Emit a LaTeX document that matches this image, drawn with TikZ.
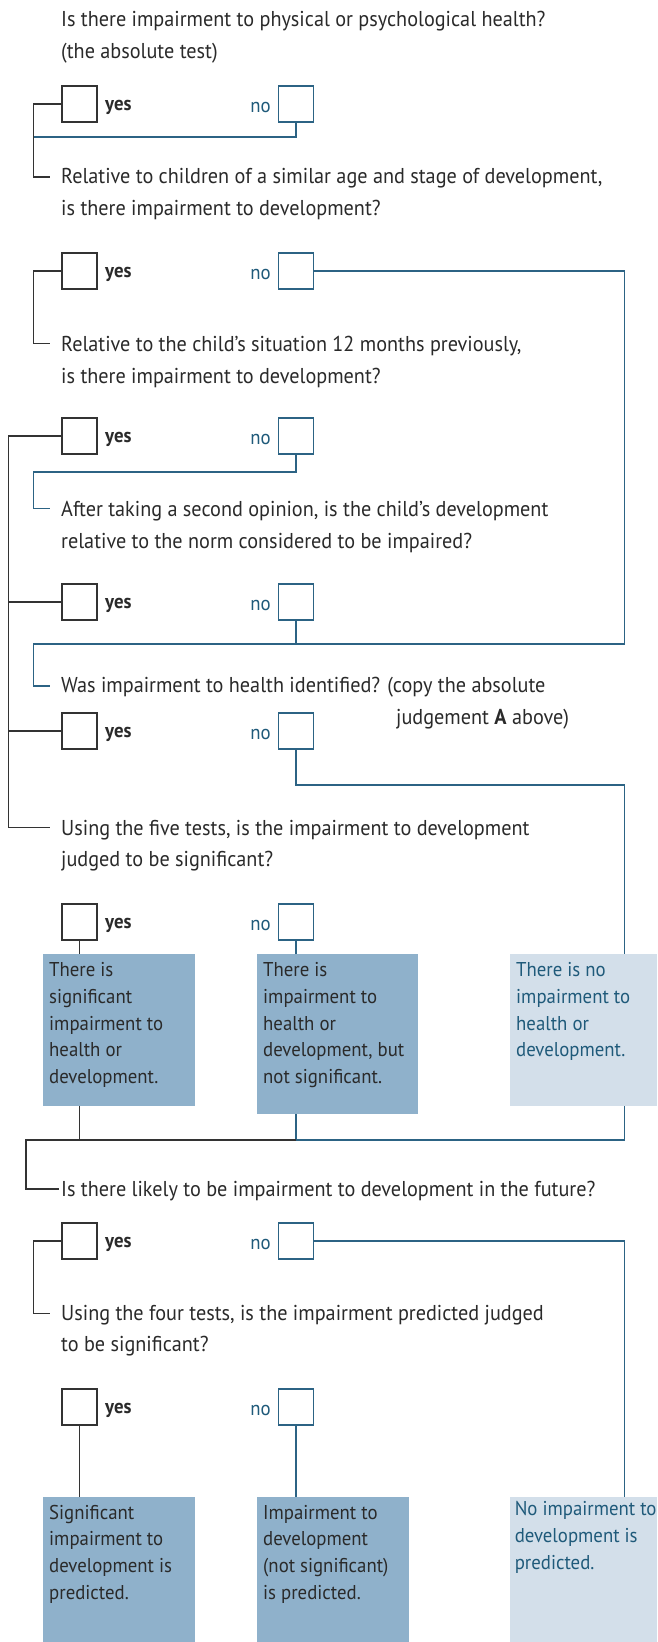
\documentclass[tikz,border=0pt]{standalone}
\usepackage{fontspec}
\setmainfont{PT Sans}[FakeStretch=0.94]
\usetikzlibrary{calc}
\definecolor{noblue}{HTML}{1F5A7A}
\definecolor{lineblue}{HTML}{2C6384}
\definecolor{ink}{HTML}{2A2A2A}
\definecolor{boxdark}{HTML}{8FB1CB}
\definecolor{boxlight}{HTML}{D3DFEA}
\definecolor{darkline}{HTML}{333333}
\tikzset{
  chk/.style={draw=darkline, line width=1.2pt, minimum width=35pt, minimum height=36pt, inner sep=0pt, fill=white},
  chkno/.style={chk, draw=lineblue},
  yeslab/.style={anchor=west, inner sep=0pt, font=\fontsize{20}{20}\selectfont\bfseries, text=ink},
  nolab/.style={anchor=east, inner sep=0pt, font=\fontsize{20}{20}\selectfont, text=noblue},
  question/.style={anchor=base west, inner sep=0pt, align=left, font=\fontsize{21.5}{31.6}\selectfont, text=ink},
  resbox/.style={anchor=north west, inner sep=0pt, fill=boxdark},
  resboxl/.style={resbox, fill=boxlight},
  restext/.style={anchor=base west, inner sep=0pt, align=left, font=\fontsize{20}{26.7}\selectfont, text=ink},
  yesline/.style={draw=darkline, line width=1.2pt},
  noline/.style={draw=lineblue, line width=1.2pt}
}
\begin{document}
\begin{tikzpicture}[x=1pt, y=-1pt]
\fill[white] (0,0) rectangle (657,1642);
\useasboundingbox (0,0) rectangle (657,1642);

% column coordinates
\coordinate (cA) at (33.5,0);
\coordinate (cB) at (8.4,0);
\coordinate (cR) at (624.5,0);

% questions (anchor = baseline of the last line)
\node[question] (q1) at (61,58.3) {Is there impairment to physical or psychological health?\\(the absolute test)};
\node[question] (q2) at (61,215) {Relative to children of a similar age and stage of development,\\is there impairment to development?};
\node[question] (q3) at (61,383.3) {Relative to the child’s situation 12 months previously,\\is there impairment to development?};
\node[question] (q4) at (61,548.3) {After taking a second opinion, is the child’s development\\relative to the norm considered to be impaired?};
\node[question] (q5) at (61,692.3) {Was impairment to health identified? (copy the absolute};
\node[question] (q5b) at (396,724) {judgement \textbf{A} above)};
\node[question] (q6) at (61,866.7) {Using the five tests, is the impairment to development\\judged to be significant?};
\node[question] (q7) at (61,1196.7) {Is there likely to be impairment to development in the future?};
\node[question] (q8) at (61,1351.7) {Using the four tests, is the impairment predicted judged\\to be significant?};

% hooks
\coordinate (h2) at (50,177);
\coordinate (h3) at (50,343.5);
\coordinate (h4) at (50,508.5);
\coordinate (h5) at (50,686);
\coordinate (h6) at (50,827.5);
\coordinate (h7) at (58.7,1189);
\coordinate (h8) at (50,1313.5);

% result boxes
\node[resbox, minimum width=152pt, minimum height=152pt] (r1) at (43,954) {};
\node[resbox, minimum width=161pt, minimum height=160pt] (r2) at (257,954) {};
\node[resboxl, minimum width=147pt, minimum height=152pt] (r3) at (510,954) {};
\node[resbox, minimum width=152pt, minimum height=145pt] (r4) at (43,1497) {};
\node[resbox, minimum width=151.6pt, minimum height=145pt] (r5) at (257,1497) {};
\node[resboxl, minimum width=147pt, minimum height=145pt] (r6) at (510,1497) {};

\node[restext] (t1) at (49,1083.5) {There is\\significant\\impairment to\\health or\\development.};
\node[restext] (t2) at (263,1083.5) {There is\\impairment to\\health or\\development, but\\not significant.};
\node[restext, text=noblue] (t3) at (516,1056.8) {There is no\\impairment to\\health or\\development.};
\node[restext] (t4) at (49,1599.1) {Significant\\impairment to\\development is\\predicted.};
\node[restext] (t5) at (263,1599.1) {Impairment to\\development\\(not significant)\\is predicted.};
\node[restext, text=noblue] (t6) at (514.6,1569.1) {No impairment to\\development is\\predicted.};

% junction coordinates
\coordinate (j1) at (33.5,137);
\coordinate (j3) at (33.5,472);
\coordinate (j4) at (33.5,644);
\coordinate (j5) at (624.5,785);
\coordinate (k) at (26,1140);

% checkboxes
\foreach \i/\yy in {1/104,2/271,3/436,4/602,5/731,6/922,7/1241,8/1407}{
  \node[chk] (y\i) at (79.5,\yy) {};
  \node[chkno] (n\i) at (296,\yy) {};
  \node[yeslab] (yl\i) at (105,\yy+3) {yes};
  \node[nolab] (nl\i) at (271,\yy+3) {no};
}

% connectors
\draw[yesline] (y1.west) -| (cA |- h2) -- (h2);
\draw[noline] (n1.south) |- (j1);
\draw[yesline] (y2.west) -| (cA |- h3) -- (h3);
\draw[noline] (n2.east) -| (cR |- j4) -- (j4) |- (h5);
\draw[noline] (n3.south) |- (j3) |- (h4);
\draw[yesline] (y3.west) -| (cB |- h6) -- (h6);
\draw[noline] (n4.south) -- (n4.south |- j4);
\draw[yesline] (y4.west) -- (cB |- y4.west);
\draw[yesline] (y5.west) -- (cB |- y5.west);
\draw[noline] (n5.south) |- (j5) -- (j5 |- r3.north);
\draw[yesline] (y6.south) -- (y6.south |- r1.north);
\draw[noline] (n6.south) -- (n6.south |- r2.north);
\draw[noline] (n6.south |- r2.south) -- (n6.south |- k) -- (cR |- k) -- (cR |- r3.south);
\draw[yesline] (y6.south |- r1.south) -- (y6.south |- k);
\draw[yesline] (n6.south |- k) -- (k) |- (h7);
\draw[yesline] (y7.west) -| (cA |- h8) -- (h8);
\draw[noline] (n7.east) -| (cR |- r6.north);
\draw[yesline] (y8.south) -- (y8.south |- r4.north);
\draw[noline] (n8.south) -- (n8.south |- r5.north);
\end{tikzpicture}
\end{document}
